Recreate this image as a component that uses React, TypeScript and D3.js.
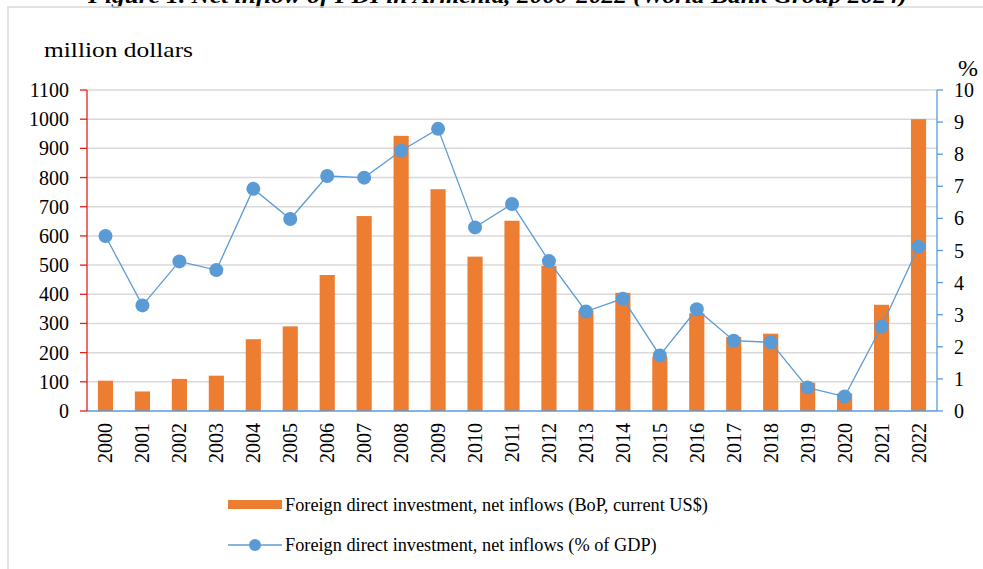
import React from "react";
import * as d3 from "d3";

const years = ["2000","2001","2002","2003","2004","2005","2006","2007","2008","2009","2010","2011","2012","2013","2014","2015","2016","2017","2018","2019","2020","2021","2022"];
const fdiUsd = [104, 67, 110, 121, 246, 290, 466, 668, 943, 760, 529, 652, 497, 344, 405, 186, 335, 254, 265, 97, 60, 364, 1000];
const fdiPct = [5.45, 3.29, 4.66, 4.39, 6.92, 5.98, 7.32, 7.27, 8.11, 8.79, 5.72, 6.45, 4.67, 3.1, 3.5, 1.73, 3.17, 2.19, 2.14, 0.73, 0.45, 2.63, 5.12];
const leftTicks = [0,100,200,300,400,500,600,700,800,900,1000,1100];
const rightTicks = [0,1,2,3,4,5,6,7,8,9,10];

const W = 983, H = 569;
const L = 87, R = 937, T = 90, B = 411;
const FONT = "'Liberation Serif', 'Times New Roman', serif";

export default function App() {
  const x = d3.scaleBand<string>().domain(years).range([L, R]).padding(0);
  const yL = d3.scaleLinear().domain([0, 1100]).range([B, T]);
  const yR = d3.scaleLinear().domain([0, 10]).range([B, T]);
  const bw = x.bandwidth() * 0.41;
  const cx = (y: string) => (x(y) as number) + x.bandwidth() / 2;
  const line = d3.line<number>().x((_, i) => cx(years[i])).y(d => yR(d));

  return (
    <svg width={W} height={H} style={{ position: "absolute", left: 0, top: 0, background: "#fff" }} fontFamily={FONT}>
      <text x={88} y={3} fontSize={22} textLength={819} lengthAdjust="spacingAndGlyphs" fontWeight="bold" fontStyle="italic" fill="#000">
        Figure 1. Net inflow of FDI in Armenia, 2000-2022 (World Bank Group 2024)
      </text>
      <rect x={8} y={7} width={W + 10} height={H + 10} fill="none" stroke="#d9d9d9" strokeWidth={1.5} />
      <text x={44} y={57} fontSize={22} textLength={149} lengthAdjust="spacingAndGlyphs" fill="#000">million dollars</text>
      <text x={968} y={76} fontSize={24} textAnchor="middle" fill="#000">%</text>
      {leftTicks.slice(1).map(t => (
        <line key={"g" + t} x1={L} x2={R} y1={yL(t)} y2={yL(t)} stroke="#d9d9d9" strokeWidth={1.5} />
      ))}
      {years.map((yr, i) => (
        <rect key={"b" + yr} x={cx(yr) - bw / 2} y={yL(fdiUsd[i])} width={bw} height={B - yL(fdiUsd[i])} fill="#ed7d31" />
      ))}
      <line x1={L} x2={R} y1={B} y2={B} stroke="#5b9bd5" strokeWidth={1.5} />
      <line x1={L} x2={L} y1={T} y2={B} stroke="#e0201c" strokeWidth={1.3} />
      {leftTicks.map(t => (
        <g key={"l" + t}>
          <line x1={L - 7} x2={L} y1={yL(t)} y2={yL(t)} stroke="#e0201c" strokeWidth={1.3} />
          <text x={69} y={yL(t)} dy="0.35em" textAnchor="end" fontSize={20} fill="#000">{t}</text>
        </g>
      ))}
      <line x1={R} x2={R} y1={T} y2={B} stroke="#5b9bd5" strokeWidth={1.3} />
      {rightTicks.map(t => (
        <g key={"r" + t}>
          <line x1={R} x2={R + 6} y1={yR(t)} y2={yR(t)} stroke="#5b9bd5" strokeWidth={1.3} />
          <text x={954} y={yR(t)} dy="0.35em" textAnchor="start" fontSize={20} fill="#000">{t}</text>
        </g>
      ))}
      {years.map(yr => (
        <text key={"x" + yr} transform={`translate(${cx(yr) + 7},423) rotate(-90)`} textAnchor="end" fontSize={20} fill="#000">{yr}</text>
      ))}
      <path d={line(fdiPct) || ""} fill="none" stroke="#5b9bd5" strokeWidth={1.3} />
      {fdiPct.map((p, i) => (
        <circle key={"c" + i} cx={cx(years[i])} cy={yR(p)} r={7} fill="#5b9bd5" />
      ))}
      <rect x={228} y={500} width={54} height={9} fill="#ed7d31" />
      <text x={285} y={511} fontSize={18.3} fill="#000">Foreign direct investment, net inflows (BoP, current US$)</text>
      <line x1={228} x2={282} y1={545} y2={545} stroke="#5b9bd5" strokeWidth={1.3} />
      <circle cx={255} cy={545} r={6} fill="#5b9bd5" />
      <text x={285} y={551} fontSize={18.3} fill="#000">Foreign direct investment, net inflows (% of GDP)</text>
    </svg>
  );
}
